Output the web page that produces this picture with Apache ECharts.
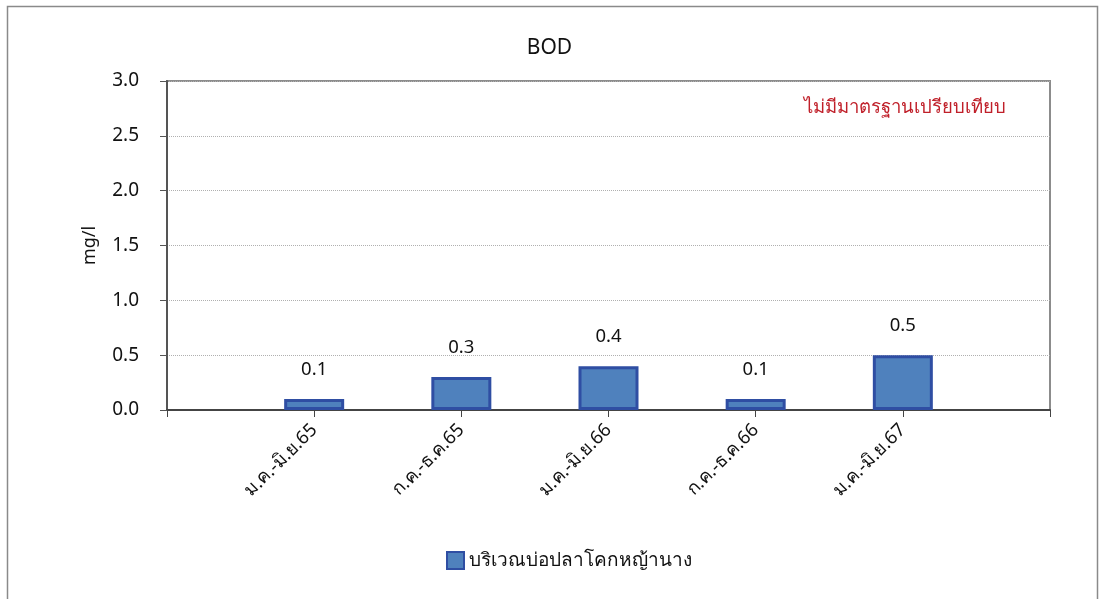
<!DOCTYPE html>
<html lang="th">
<head>
    <meta charset="UTF-8">
    <title>BOD</title>
    <script src="https://cdn.jsdelivr.net/npm/echarts@6/dist/echarts.min.js"></script>
    <style>
        html, body { margin: 0; padding: 0; background: #fff; }
        #main { width: 1099px; height: 599px; }
    </style>
</head>
<body>
<div id="main"></div>
<script>
    // ช่วงเวลา (หัวท้ายว่างไว้เพื่อเว้นที่แบบ Excel)
    var periods = ['', 'ม.ค.-มิ.ย.65', 'ก.ค.-ธ.ค.65', 'ม.ค.-มิ.ย.66', 'ก.ค.-ธ.ค.66', 'ม.ค.-มิ.ย.67', ''];
    var bodValues = ['-', 0.1, 0.3, 0.4, 0.1, 0.5, '-'];
    var yTicks = [0, 0.5, 1.0, 1.5, 2.0, 2.5, 3.0];
    var seriesName = 'บริเวณบ่อปลาโคกหญ้านาง';
    var noteText = 'ไม่มีมาตรฐานเปรียบเทียบ';

    var font = 'Tahoma, "Noto Sans", "DejaVu Sans", sans-serif';

    var myChart = echarts.init(document.getElementById('main'));
    var option = {
        animation: false,
        textStyle: { fontFamily: font },
        title: {
            text: 'BOD',
            left: 'center',
            top: 33,
            textStyle: { fontSize: 21, fontWeight: 'normal', color: '#111', fontFamily: font }
        },
        graphic: [{
            type: 'rect',
            shape: { x: 7.5, y: 6.5, width: 1090, height: 640 },
            style: { fill: 'none', stroke: '#8a8a8a', lineWidth: 1.5 },
            silent: true
        }, {
            type: 'text',
            right: 93,
            top: 98,
            style: { text: noteText, fill: '#c0202a', fontSize: 18.5, fontFamily: font }
        }],
        grid: {
            left: 167, right: 49, top: 81, bottom: 189,
            show: true, borderColor: '#8c8c8c', borderWidth: 2
        },
        legend: {
            top: 546,
            left: 441,
            icon: 'rect',
            itemWidth: 17,
            itemHeight: 17,
            itemGap: 6,
            textStyle: { fontSize: 19, color: '#111', fontFamily: font },
            data: [seriesName]
        },
        xAxis: {
            type: 'category',
            data: periods,
            boundaryGap: false,
            axisLine: { lineStyle: { color: '#444', width: 2 } },
            axisTick: { show: true, interval: 0, length: 7, inside: false, lineStyle: { color: '#444' } },
            axisLabel: { interval: 0, rotate: 45, fontSize: 18.5, color: '#111', margin: 17, fontFamily: font },
            splitLine: { show: false }
        },
        yAxis: {
            type: 'value',
            min: yTicks[0],
            max: yTicks[yTicks.length - 1],
            interval: 0.5,
            name: 'mg/l',
            nameLocation: 'middle',
            nameGap: 68,
            nameRotate: 90,
            nameTextStyle: { fontSize: 18, color: '#111', fontFamily: font },
            axisLine: { show: true, lineStyle: { color: '#555', width: 2 } },
            axisTick: { show: true, length: 7, lineStyle: { color: '#555' } },
            axisLabel: {
                fontSize: 19, color: '#111', margin: 28, fontFamily: font,
                formatter: function (v) { return v.toFixed(1); }
            },
            splitLine: { show: true, lineStyle: { color: '#b0b0b0', type: 'dotted', width: 1 } }
        },
        series: [{
            name: seriesName,
            type: 'bar',
            data: bodValues,
            barWidth: 60,
            itemStyle: { color: '#4f81bd', borderColor: '#2f4ea3', borderWidth: 3 },
            label: {
                show: true,
                position: 'top',
                distance: 20,
                fontSize: 18.5,
                color: '#111',
                fontFamily: font,
                formatter: function (p) { return p.value.toFixed(1); }
            }
        }]
    };
    myChart.setOption(option);
</script>
</body>
</html>
